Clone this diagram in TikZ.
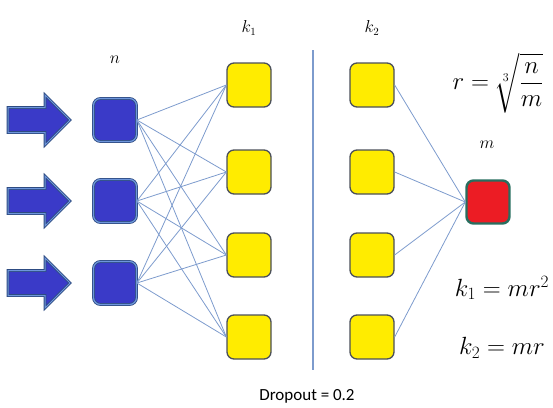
\documentclass[tikz,border=0pt]{standalone}
\usepackage{amsmath}
\usepackage{fontspec}
\setsansfont{Carlito}
\usetikzlibrary{calc}
\definecolor{unitblue}{RGB}{58,58,200}
\definecolor{edgeblue}{RGB}{45,75,130}
\definecolor{rimblue}{RGB}{110,150,220}
\definecolor{unityellow}{RGB}{255,236,0}
\definecolor{edgegrey}{RGB}{75,80,90}
\definecolor{unitred}{RGB}{236,28,36}
\definecolor{edgeteal}{RGB}{40,110,95}
\definecolor{wireblue}{RGB}{125,155,205}
\tikzset{
  inbox/.style={draw=edgeblue,double=rimblue,double distance=1.2pt,line width=0.8pt,
    fill=unitblue,rounded corners=7pt,minimum size=43pt,inner sep=0pt},
  hidbox/.style={draw=edgegrey,line width=1.3pt,fill=unityellow,
    rounded corners=7pt,minimum size=44pt,inner sep=0pt},
  outbox/.style={draw=edgeteal,line width=2.4pt,fill=unitred,
    rounded corners=7pt,minimum size=43pt,inner sep=0pt},
  inarrow/.style={draw=edgeblue,double=rimblue,double distance=1pt,line width=0.8pt,
    fill=unitblue,line join=miter},
  wire/.style={draw=wireblue,line width=0.8pt},
  lbl/.style={font=\fontsize{16}{19}\selectfont},
  eqn/.style={font=\fontsize{24}{28}\selectfont}
}
\begin{document}
\begin{tikzpicture}[x=1pt,y=-1pt]
  \useasboundingbox (0,0) rectangle (553,407);

  % input side
  \foreach \y [count=\i] in {120,201,283} {
    \draw[inarrow] (8,\y-12.5) -- (45,\y-12.5) -- (45,\y-25) -- (70,\y)
      -- (45,\y+25) -- (45,\y+12.5) -- (8,\y+12.5) -- cycle;
    \node[inbox] (n\i) at (115,\y) {};
  }

  % hidden layers
  \foreach \y [count=\i] in {85,172,255,337} {
    \node[hidbox] (a\i) at (249,\y) {};
    \node[hidbox] (b\i) at (372,\y) {};
  }
  \node[outbox] (m) at (488,202) {};

  \foreach \i in {1,2,3}
    \foreach \j in {1,...,4}
      \draw[wire] (n\i.east) -- (a\j.west);
  \foreach \j in {1,...,4}
    \draw[wire] (b\j.east) -- (m.west);

  \coordinate (top) at (313,50);
  \coordinate (bot) at (313,370);
  \draw[wire,line width=1.2pt] (top) -- (bot);

  % labels
  \node[lbl] (ln) at (115,60) {$n$};
  \node[lbl] (lk1) at (249,28) {$k_1$};
  \node[lbl] (lk2) at (372,28) {$k_2$};
  \node[lbl] (lm) at (487,145) {$m$};
  \node[eqn,font=\fontsize{23}{27}\selectfont] (er) at (498,83) {$r=\sqrt[3]{\dfrac{n}{m}}$};
  \node[eqn] (ek1) at (502,288) {$k_1=mr^2$};
  \node[eqn] (ek2) at (502,348) {$k_2=mr$};
  \node[font=\sffamily\fontsize{17}{20}\selectfont,anchor=base] (drop) at (307,400) {Dropout = 0.2};
\end{tikzpicture}
\end{document}
